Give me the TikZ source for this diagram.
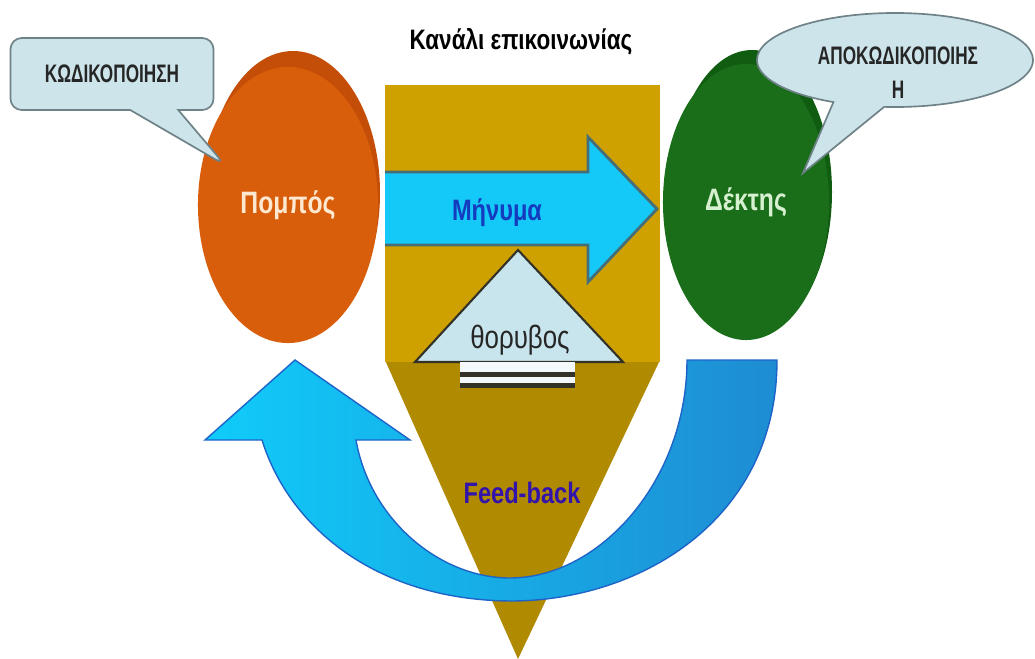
\documentclass[tikz,border=0pt]{standalone}
\usepackage{fontspec}
\setmainfont{Liberation Sans}
\newfontfamily\narrowfont[FakeStretch=0.8]{Liberation Sans}
\newfontfamily\condfont[FakeStretch=0.68]{Liberation Sans}
\usetikzlibrary{shapes.geometric,shapes.callouts}

\definecolor{chanup}{RGB}{206,160,0}
\definecolor{chanlow}{RGB}{176,138,0}
\definecolor{msgfill}{RGB}{20,200,248}
\definecolor{msgline}{RGB}{70,110,120}
\definecolor{msgtext}{RGB}{20,60,190}
\definecolor{noisefill}{RGB}{200,228,236}
\definecolor{noiseline}{RGB}{50,50,40}
\definecolor{senderfill}{RGB}{216,94,12}
\definecolor{senderback}{RGB}{196,78,8}
\definecolor{sendertext}{RGB}{255,232,208}
\definecolor{receiverfill}{RGB}{26,110,26}
\definecolor{receiverback}{RGB}{16,92,16}
\definecolor{receivertext}{RGB}{214,240,208}
\definecolor{bubblefill}{RGB}{204,228,234}
\definecolor{bubbleline}{RGB}{110,130,135}
\definecolor{feedleft}{RGB}{16,204,250}
\definecolor{feedright}{RGB}{30,140,210}
\definecolor{feedline}{RGB}{30,100,200}
\definecolor{feedtext}{RGB}{50,20,170}

\begin{document}
\begin{tikzpicture}[
    x=0.025cm, y=-0.025cm,
    person/.style={ellipse, minimum width=4.5cm, minimum height=6.9cm, inner sep=0pt, font=\narrowfont\bfseries\fontsize{22}{24}\selectfont},
    bubble/.style={fill=bubblefill, draw=bubbleline, line width=1.2pt},
    bubbletext/.style={font=\condfont\bfseries\fontsize{18}{24}\selectfont, text=black!85, align=center},
    caption/.style={font=\narrowfont\bfseries\fontsize{21}{24}\selectfont}
]
\useasboundingbox (0,0) rectangle (1035,659);

% Channel
\fill[chanlow] (385,360) -- (660,360) -- (518,659) -- cycle;
\fill[chanup] (385,85) rectangle (660,362);
\node[font=\narrowfont\bfseries\fontsize{20}{24}\selectfont] (title) at (521,42) {Κανάλι επικοινωνίας};

% Message arrow
\fill[msgfill] (385,172) -- (588,172) -- (588,137) -- (657,209) -- (588,282) -- (588,245) -- (385,245) -- cycle;
\draw[msgline, line width=2pt] (385,172) -- (588,172) -- (588,137) -- (657,209) -- (588,282) -- (588,245) -- (385,245);
\node[caption, text=msgtext] (message) at (497,213) {Μήνυμα};

% Noise
\draw[noiseline, line width=1.5pt, fill=noisefill] (518,250) -- (623,362) -- (415,362) -- cycle;
\fill[white!80!noisefill] (460,362) rectangle (575,388);
\draw[noiseline, line width=3.5pt] (460,374.5) -- (575,374.5);
\draw[noiseline, line width=3.5pt] (460,385.5) -- (575,385.5);
\node[font=\narrowfont\fontsize{23}{24}\selectfont, text=black!85] (noise) at (520,340) {θορυβος};

% Sender
\fill[senderback] (293,193) ellipse [x radius=87, y radius=142];
\node[person, fill=senderfill, text=sendertext] (sender) at (288,205) {Πομπός};

% Receiver
\fill[receiverback] (752,192) ellipse [x radius=80, y radius=142];
\node[person, minimum width=4.15cm, fill=receiverfill, text=receivertext] (receiver) at (746,202) {Δέκτης};

% Encoding / decoding
\coordinate (enctip) at (225,165);
\node[bubble, bubbletext, rectangle callout, rounded corners=8pt, minimum width=5.075cm, minimum height=1.8cm,
    callout absolute pointer=(enctip), callout pointer width=1.2cm] (encoding) at (112,74) {ΚΩΔΙΚΟΠΟΙΗΣΗ};
\coordinate (dectip) at (803,173);
\node[bubble, ellipse callout, minimum width=6.9cm, minimum height=2.35cm,
    callout absolute pointer=(dectip), callout pointer arc=22] (decoding) at (895,60) {};
\node[bubbletext] (dectext) at (898,73) {ΑΠΟΚΩΔΙΚΟΠΟΙΗΣ\\Η};

% Feed-back arrow
\draw[feedline, line width=1pt, left color=feedleft, right color=feedright]
    (777,360) .. controls (777,520) and (640,600) .. (513,601)
    .. controls (380,601) and (290,530) .. (262,440)
    -- (205,440) -- (295,360) -- (410,440) -- (356,440)
    .. controls (370,520) and (440,578) .. (510,578)
    .. controls (600,578) and (687,480) .. (687,360)
    -- cycle;
\node[caption, text=feedtext] (feedback) at (522,493) {Feed-back};

\end{tikzpicture}
\end{document}
